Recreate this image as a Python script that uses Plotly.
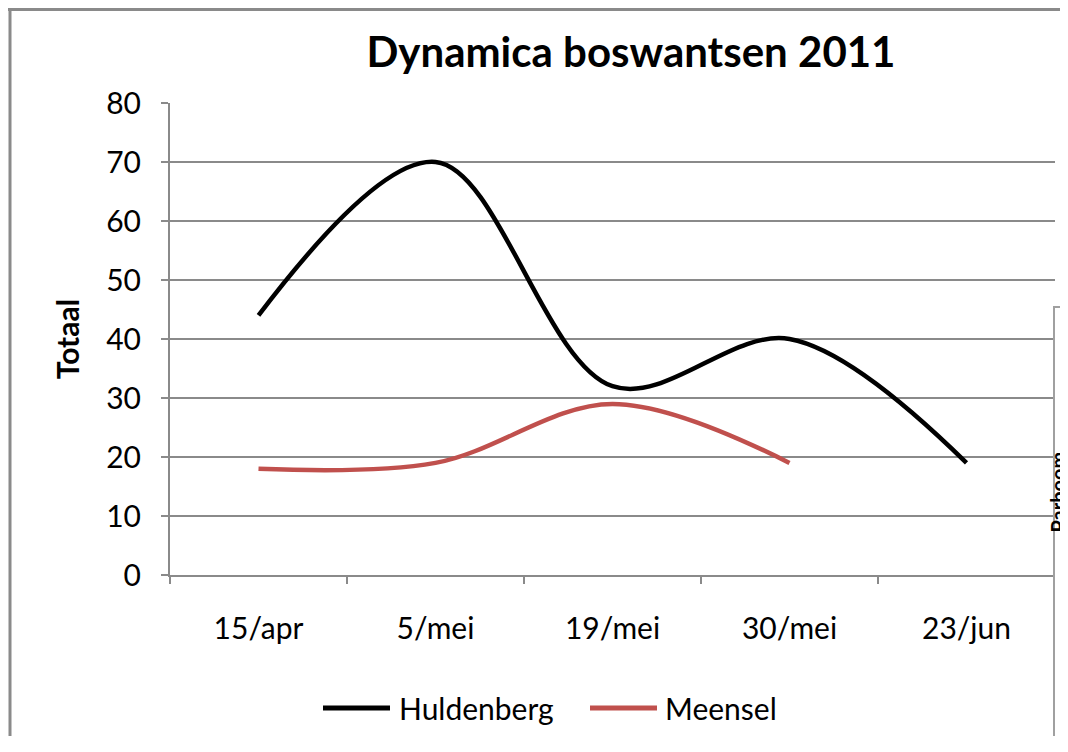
import plotly.graph_objects as go

categories = ["15/apr", "5/mei", "19/mei", "30/mei", "23/jun"]
huldenberg = [44, 70, 32, 40, 19]
meensel = [18, 19, 29, 19, None]
series_names = ["Huldenberg", "Meensel"]
series_colors = ["black", "#C0504D"]

# page has an 8px body margin on every side; positions below are page pixels
OFF = 8
W, H = 1068 - 2 * OFF, 752 - 2 * OFF - 8
L, T = 170 - OFF, 103 - OFF
PR, PB = 1055 - OFF, 575 - OFF
R, B = W - PR, H - PB
pw, ph = PR - L, PB - T

def px(x):
    return (x - OFF - L) / pw

def py(y):
    return (PB - (y - OFF)) / ph

FONT = "Lato"

fig = go.Figure()
for name, vals, col in zip(series_names, [huldenberg, meensel], series_colors):
    fig.add_trace(go.Scatter(x=categories, y=vals, name=name, mode="lines", showlegend=False,
                             line=dict(color=col, width=4.5, shape="spline", smoothing=1.0)))

shapes = [
    # outer chart frame (left and top edges visible)
    dict(type="line", xref="paper", yref="paper", layer="below",
         x0=px(10), x1=px(10), y0=py(760), y1=py(8),
         line=dict(color="#8a8a8a", width=3)),
    dict(type="line", xref="paper", yref="paper", layer="below",
         x0=px(8), x1=px(1080), y0=py(9.5), y1=py(9.5),
         line=dict(color="#8a8a8a", width=3)),
    # neighbouring chart frame on the right
    dict(type="rect", xref="paper", yref="paper", layer="above",
         x0=px(1054), x1=px(1100), y0=py(790), y1=py(307),
         fillcolor="white", line=dict(color="#a0a0a0", width=2)),
]
annotations = [dict(text="<b>Parboom</b>", xref="paper", yref="paper",
                    x=px(1071), y=py(535), textangle=-90, showarrow=False,
                    font=dict(family=FONT, size=20, color="black"))]

# legend drawn manually (long line samples as in the reference)
leg_items = [(323, 390, 397), (590, 657, 663)]
for (x0, x1, tx), name, col in zip(leg_items, series_names, series_colors):
    shapes.append(dict(type="line", xref="paper", yref="paper", layer="above",
                       x0=px(x0), x1=px(x1), y0=py(708), y1=py(708),
                       line=dict(color=col, width=5)))
    annotations.append(dict(text=name, xref="paper", yref="paper", x=px(tx), y=py(708),
                            xanchor="left", yanchor="middle", showarrow=False,
                            font=dict(family=FONT, size=30, color="black")))

fig.update_layout(
    width=W, height=H,
    margin=dict(l=L, r=R, t=T, b=B),
    paper_bgcolor="white",
    plot_bgcolor="rgba(0,0,0,0)",
    font=dict(family=FONT, color="black", size=30),
    title=dict(text="<b>Dynamica boswantsen 2011</b>", x=(631 - OFF) / W, xanchor="center",
               y=1 - (52 - OFF) / H, yanchor="middle", yref="container",
               font=dict(family=FONT, size=42, color="black")),
    xaxis=dict(type="category", tickson="boundaries", showgrid=False,
               showline=True, linecolor="#8a8a8a", linewidth=2,
               ticks="outside", ticklen=7, tickcolor="#8a8a8a", tickwidth=2,
               tickfont=dict(size=30), range=[-0.5, 4.5], ticklabelstandoff=26),
    yaxis=dict(range=[0, 80], dtick=10, showgrid=True, gridcolor="#8a8a8a", gridwidth=1.5,
               showline=True, linecolor="#8a8a8a", linewidth=2,
               ticks="outside", ticklen=7, tickcolor="#8a8a8a", tickwidth=2,
               tickfont=dict(size=30), zeroline=False, ticklabelstandoff=14,
               title=dict(text="<b>Totaal</b>", font=dict(size=30), standoff=18)),
    showlegend=False,
    shapes=shapes,
    annotations=annotations,
)

fig.write_html("out.html")
